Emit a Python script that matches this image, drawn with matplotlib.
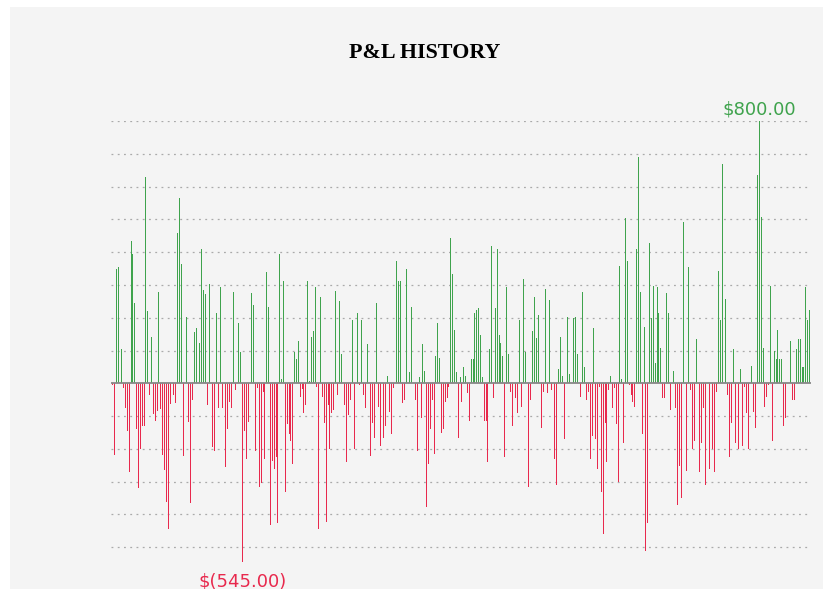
import numpy as np
import matplotlib
matplotlib.use("Agg")
import matplotlib.pyplot as plt
from matplotlib.patches import Rectangle

# daily P&L values, left to right
pnl_1 = [-5, -220, 349, 354, 0, 104, -15, -76, -145, -270, 434, 394, 244, -140, -320, -201,
         -130, -130, 628, 219, -36, 142, -95, -115, -84, 279, -79, -220, -264, -361, -445, -64]
pnl_2 = [-171, -36, -61, 458, 564, 364, -221, -81, 203, -117, -366, -51, 155, 168, 313, 124,
         409, 285, 273, -66, 303, -36, -195, -205, 214, -74, 293, -76, 8, -256, -140, -56]
pnl_3 = [-76, 279, -20, 369, 183, 94, -545, -145, -231, -117, -31, 275, 239, -205, -15, -315,
         -305, -25, -231, 339, 234, -431, -236, -261, -226, -427, 394, 12, 313, -331, -125, -156, -176]
pnl_4 = [-246, 94, 73, 129, -41, -17, -92, -66, 313, 8, 142, 158, 293, -12, -445, 262,
         -41, -122, -423, -66, -201, -92, -81, 283, -36, 252, 88, -145, -66, -241, -97, -51]
pnl_5 = [193, -201, 134, 214, -6, 193, -36, -76, 119, 59, -221, -120, -166, 244, -71, -190,
         -130, -166, -130, 23, -86, -156, -15, -15, 373, 313, 313, -61, -51, 349, -20, 34]
pnl_6 = [234, 0, -51, -205, 18, -105, 119, 39, -376, -246, -140, -51, -216, 83, 183, 78,
         -151, -140, -56, -46, -10, 444, 334, 163, 34, -166, 18, -56, 49, 23, -31, -115]
pnl_7 = [73, 73, 214, 224, 229, 147, 18, -115, -115, -241, 104, 419, -46, 229, 409, 147,
         124, 83, -226, 293, 88, -25, -130, 339, -46, -90, 193, -71, 318, 94, -76, -315, -51]
pnl_8 = [158, 262, 139, 208, 0, -135, -25, 288, -31, 254, -20, 188, -231, -310, 44, 142,
         23, -171, -41, 203, 28, 0, 198, 203, 88, 188, -41, 279, 49, -51, -25, -231]
pnl_9 = [-161, 168, -171, -261, -10, -331, -461, -120, -241, -20, 23, -76, -15, -125, -301, 358,
         12, -181, 503, 373, -6, -36, -56, -71, 409, 689, 279, -156, 173, -511, -427, 429]
pnl_10 = [198, 298, 63, 293, 214, 109, -46, -46, 275, 214, -81, 178, 39, -76, -371, -251,
          -351, 493, -66, -266, 354, -20, -200, -176, 134, -31, -272, -181, -76, -310, 0, -261]
pnl_11 = [-264, -200, -272, -25, 344, 193, 669, 419, 258, -36, -226, -120, 104, -181, -236, -200,
          44, -190, -10, -90, -200, 59, 53, -86, -135, 634, 800, 508, 109, -71, -41, -6, 298]
pnl_12 = [-176, 99, 73, 163, 73, 73, -130, -107, 0, 0, 129, -51, -51, 104, 134, 134,
          49, 49, 293, 193, 224]

pnl = np.array(pnl_1 + pnl_2 + pnl_3 + pnl_4 + pnl_5 + pnl_6 + pnl_7 + pnl_8
               + pnl_9 + pnl_10 + pnl_11 + pnl_12, dtype=float)

GREEN = "#3fa34d"
RED = "#e8294d"

fig = plt.figure(figsize=(8.23, 5.89), dpi=100, facecolor="white")
# light gray card behind the chart
fig.patches.append(Rectangle((10 / 823, 0), 1, 1 - 7 / 589, transform=fig.transFigure,
                             facecolor="#f4f4f4", edgecolor="none", zorder=-1))

ax = fig.add_axes([111 / 823, 1 - 562 / 589, 700 / 823, (562 - 121) / 589])
ax.set_facecolor("none")

x = np.arange(len(pnl))
colors = [GREEN if v >= 0 else RED for v in pnl]
ax.bar(x, pnl, width=0.5, color=colors, linewidth=0, zorder=3)

ax.set_xlim(-0.8, len(pnl) - 0.2)
ax.set_ylim(-545, 800)

for yv in range(-500, 801, 100):
    if yv == 0:
        continue
    ax.axhline(yv, color="#aaaaaa", linestyle=(0, (1.5, 3.5)), linewidth=0.9, zorder=1)
ax.axhline(0, color="#888888", linewidth=1.3, zorder=4)

ax.set_xticks([])
ax.set_yticks([])
for s in ax.spines.values():
    s.set_visible(False)

imax = int(np.argmax(pnl))
imin = int(np.argmin(pnl))
ax.text(imax, pnl[imax] + 8, "${:,.2f}".format(pnl[imax]), color=GREEN, fontsize=13,
        ha="center", va="bottom", clip_on=False)
ax.text(imin, pnl[imin] - 32, "$({:,.2f})".format(-pnl[imin]), color=RED, fontsize=13,
        ha="center", va="top", clip_on=False)

fig.text(425 / 823, 1 - 53 / 589, "P&L HISTORY", ha="center", va="center",
         fontsize=15.8, fontweight="bold", family=["Liberation Serif", "DejaVu Serif"])

fig.savefig("out.png", dpi=100, facecolor=fig.get_facecolor())
